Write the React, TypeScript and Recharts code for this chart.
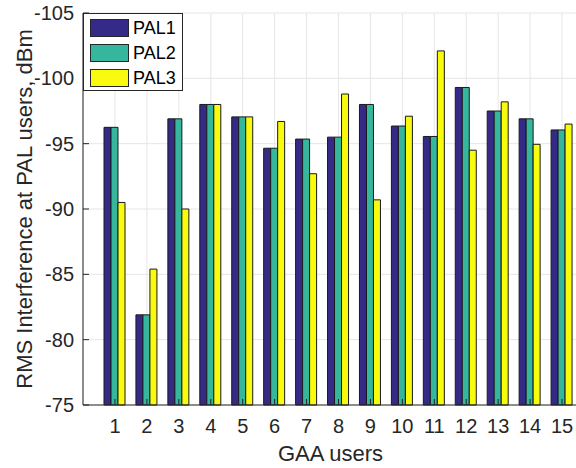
import { Bar, BarChart, CartesianGrid, Legend, XAxis, YAxis } from "recharts";

const users = ["1", "2", "3", "4", "5", "6", "7", "8", "9", "10", "11", "12", "13", "14", "15"];
const pal1 = [-96.25, -81.9, -96.9, -98.0, -97.05, -94.65, -95.35, -95.5, -98.0, -96.35, -95.55, -99.3, -97.5, -96.9, -96.05];
const pal2 = [-96.25, -81.9, -96.9, -98.0, -97.05, -94.65, -95.35, -95.5, -98.0, -96.35, -95.55, -99.3, -97.5, -96.9, -96.05];
const pal3 = [-90.5, -85.4, -90.0, -98.0, -97.05, -96.7, -92.7, -98.8, -90.7, -97.1, -102.1, -94.5, -98.2, -94.95, -96.5];
const yTicks = [-105, -100, -95, -90, -85, -80, -75];

const series = [
  { key: "PAL1", color: "#352A87" },
  { key: "PAL2", color: "#35B79E" },
  { key: "PAL3", color: "#F9FB0E" },
];

const data = users.map((u, i) => ({ user: u, PAL1: pal1[i], PAL2: pal2[i], PAL3: pal3[i] }));

const axisColor = "#262626";

function LegendBox() {
  return (
    <div
      style={{
        width: 100,
        height: 78,
        boxSizing: "border-box",
        border: `1px solid ${axisColor}`,
        background: "#fff",
        paddingTop: 2,
      }}
    >
      {series.map((s) => (
        <div key={s.key} style={{ display: "flex", alignItems: "center", height: 24.75 }}>
          <span
            style={{
              display: "inline-block",
              marginLeft: 6,
              width: 39,
              height: 18,
              boxSizing: "border-box",
              background: s.color,
              border: `1px solid ${axisColor}`,
            }}
          />
          <span style={{ marginLeft: 4, fontSize: 18, color: "#000", lineHeight: "18px" }}>{s.key}</span>
        </div>
      ))}
    </div>
  );
}

export default function App() {
  return (
    <div
      style={{
        position: "absolute",
        left: 0,
        top: 0,
        width: 576,
        height: 468,
        overflow: "hidden",
        background: "#fff",
        fontFamily: "'Liberation Sans', Arial, sans-serif",
      }}
    >
      <BarChart
        width={578}
        height={468}
        data={data}
        margin={{ top: 13, right: 0, bottom: 0, left: 0 }}
        barGap={0}
        barSize={7}
      >
        <CartesianGrid stroke="#e6e6e6" vertical horizontal />
        <XAxis
          dataKey="user"
          height={63}
          padding={{ left: 16, right: 0 }}
          axisLine={{ stroke: axisColor }}
          tickLine={{ stroke: axisColor }}
          tickSize={-6}
          tickMargin={20}
          tick={{ fontSize: 20, fill: axisColor }}
          interval={0}
          label={{ value: "GAA users", position: "insideBottom", offset: 7, fontSize: 22, fill: axisColor }}
        />
        <XAxis
          xAxisId="top"
          dataKey="user"
          orientation="top"
          height={0}
          padding={{ left: 16, right: 0 }}
          axisLine={{ stroke: axisColor }}
          tickLine={{ stroke: axisColor }}
          tickSize={-6}
          tick={false}
          interval={0}
        />
        <YAxis
          type="number"
          domain={[-105, -75]}
          ticks={yTicks}
          reversed
          width={83}
          axisLine={{ stroke: axisColor }}
          tickLine={{ stroke: axisColor }}
          tickSize={-6}
          tickMargin={15}
          tick={{ fontSize: 20, fill: axisColor }}
          label={{
            value: "RMS Interference at PAL users, dBm",
            angle: -90,
            position: "insideLeft",
            offset: 24,
            fontSize: 22,
            fill: axisColor,
            style: { textAnchor: "middle" },
          }}
        />
        <YAxis
          yAxisId="right"
          orientation="right"
          type="number"
          domain={[-105, -75]}
          ticks={yTicks}
          reversed
          width={0}
          axisLine={{ stroke: axisColor }}
          tickLine={{ stroke: axisColor }}
          tickSize={-6}
          tick={false}
        />
        <Legend
          layout="vertical"
          align="center"
          verticalAlign="middle"
          wrapperStyle={{ left: 83, top: 13, width: 100, height: 78 }}
          content={() => <LegendBox />}
        />
        {series.map((s) => (
          <Bar
            key={s.key}
            dataKey={s.key}
            fill={s.color}
            stroke="#1a1a1a"
            strokeWidth={1}
            isAnimationActive={false}
          />
        ))}
      </BarChart>
    </div>
  );
}
